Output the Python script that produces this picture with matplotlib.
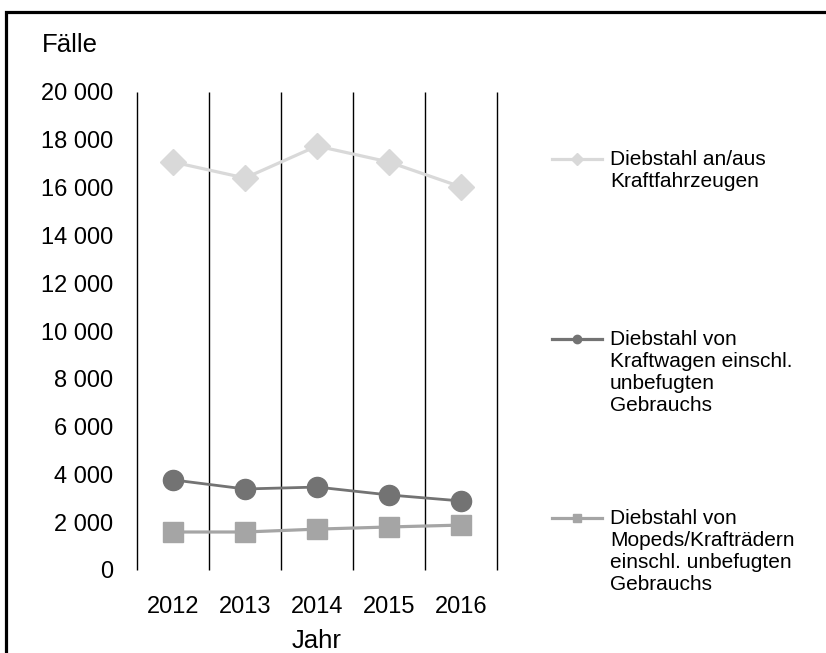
import matplotlib
matplotlib.use("Agg")
import matplotlib.pyplot as plt
from matplotlib.lines import Line2D
from matplotlib.legend_handler import HandlerLine2D
from matplotlib.patches import Rectangle
from matplotlib.ticker import FuncFormatter
import numpy as np

plt.rcParams["font.family"] = ["Liberation Sans", "DejaVu Sans"]

# data
years = ["2012", "2013", "2014", "2015", "2016"]
kfz = [17070, 16400, 17740, 17070, 16030]
kraftwagen = [3770, 3390, 3470, 3140, 2890]
mopeds = [1590, 1590, 1710, 1800, 1880]

labels = [
    "Diebstahl an/aus\nKraftfahrzeugen",
    "Diebstahl von\nKraftwagen einschl.\nunbefugten\nGebrauchs",
    "Diebstahl von\nMopeds/Krafträdern\neinschl. unbefugten\nGebrauchs",
]
colors = ["#d9d9d9", "#737373", "#a5a5a5"]
markers = ["D", "o", "s"]


class FirstLineHandler(HandlerLine2D):
    # put the legend line next to the first line of a multiline label
    def __init__(self, shift, **kw):
        super().__init__(**kw)
        self.shift = shift

    def create_artists(self, legend, orig_handle, xdescent, ydescent,
                       width, height, fontsize, trans):
        artists = super().create_artists(legend, orig_handle, xdescent, ydescent,
                                         width, height, fontsize, trans)
        for a in artists:
            a.set_ydata(np.asarray(a.get_ydata(), dtype=float) + self.shift)
        return artists


W, H = 826, 653
fig = plt.figure(figsize=(W / 100, H / 100), dpi=100)
ax = fig.add_axes([137 / W, 1 - 570 / H, 360 / W, 478 / H])

x = np.arange(len(years))
ax.plot(x, kfz, color=colors[0], lw=2.3, marker="D", ms=13, zorder=3)
ax.plot(x, kraftwagen, color=colors[1], lw=2.0, marker="o", ms=14.5, zorder=3)
ax.plot(x, mopeds, color=colors[2], lw=2.3, marker="s", ms=15, zorder=3)

ax.set_xlim(-0.5, len(years) - 0.5)
ax.set_ylim(0, 20000)
ax.set_yticks(range(0, 20001, 2000))
ax.yaxis.set_major_formatter(FuncFormatter(lambda v, p: f"{int(v):,}".replace(",", " ")))
ax.set_xticks(x)
ax.set_xticklabels(years)
# category separators
ax.vlines(np.arange(-0.5, len(years)), 0, 20000, color="black", lw=1.0,
          clip_on=False, zorder=1)
ax.tick_params(which="both", length=0)
ax.tick_params(axis="y", pad=17, labelsize=17)
ax.tick_params(axis="x", pad=19, labelsize=17)
for s in ax.spines.values():
    s.set_visible(False)

ax.set_ylabel("Fälle", fontsize=18.5, rotation=0)
ax.yaxis.set_label_coords(-0.186, 1.073)
ax.set_xlabel("Jahr", fontsize=18.5)
ax.xaxis.set_label_coords(0.5, -0.124)

# legend: one block per series
fs = 15
pitch = 1.086 * fs
tops = [150, 330, 509]
for i in range(3):
    h = Line2D([], [], color=colors[i], lw=2.3, marker=markers[i], ms=6)
    n = labels[i].count("\n")
    fig.legend([h], [labels[i]], loc="upper left",
               bbox_to_anchor=(552 / W, 1 - tops[i] / H),
               frameon=False, fontsize=fs, borderpad=0, borderaxespad=0,
               handlelength=2.4, handletextpad=0.38,
               handler_map={h: FirstLineHandler(n * pitch / 2)})

fig.patches.append(Rectangle((6 / W, -0.1), 1.2, 1 - 11.7 / H + 0.1,
                             transform=fig.transFigure, fill=False,
                             edgecolor="black", lw=2.3))

fig.savefig("out.png", dpi=100)
